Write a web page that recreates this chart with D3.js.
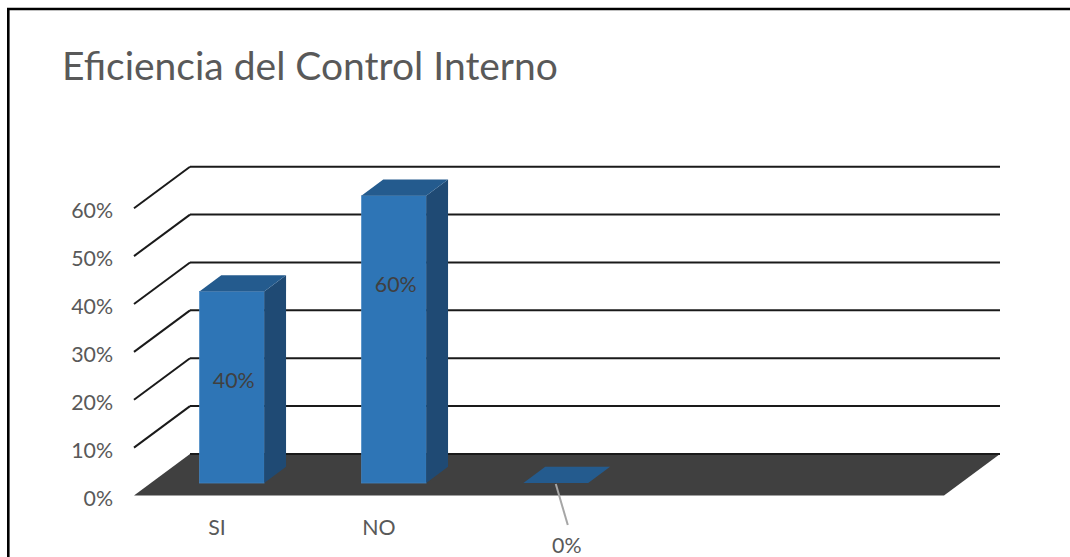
<!DOCTYPE html>
<html>
<head>
<meta charset="utf-8">
<script src="https://cdn.jsdelivr.net/npm/d3@7"></script>
<style>
  html,body{margin:0;padding:0;background:#fff;}
  svg{display:block;font-family:Lato,"Open Sans",sans-serif;}
</style>
</head>
<body>
<svg id="chart" width="1070" height="557"></svg>
<script>
/* ----- data ------------------------------------------------- */
const title      = 'Eficiencia del Control Interno';
const categories = ['SI','NO','','',''];
const values     = [0.40, 0.60, 0, null, null];
const yTicks     = [0, .1, .2, .3, .4, .5, .6];

/* ----- setup ------------------------------------------------ */
const svg = d3.select('#chart'),
      W   = +svg.attr('width'),
      H   = +svg.attr('height');

const depth = {dx:56, dy:-41.5},          // front -> back wall offset
      bar0  = .30, bar1 = .69;            // bar depth (fraction of floor)

const x = d3.scaleBand()
  .domain(d3.range(categories.length))
  .range([134,944])
  .paddingInner(.6).paddingOuter(.3);

const yF = d3.scaleLinear().domain([0,.6]).range([495.5,208.2]); // front plane
const yB = v => yF(v) + depth.dy;                                   // back wall
const fmt = d3.format('.0%');

const col = {front:'#2e75b6', top:'#245b8e', side:'#1f4a74',
             floor:'#404040', grid:'#1a1a1a', text:'#595959'};

/* frame (only top / left edges visible) */
svg.append('path')
  .attr('d',`M8.3,${H+10}V9H${W+10}`)
  .attr('fill','none').attr('stroke','#000').attr('stroke-width',2.6);

/* title, fitted to width */
const t = svg.append('text')
  .attr('x',62).attr('y',80)
  .style('fill',col.text).style('font-size','40px')
  .text(title);
const fs = 40 * 496 / t.node().getComputedTextLength();
t.style('font-size',fs+'px');
const small = fs * 23/42;

/* ----- floor & grid ---------------------------------------- */
const x0 = x.range()[0], x1 = x.range()[1];
svg.append('path')
  .attr('d',`M${x0},${yF(0)}L${x0+depth.dx},${yB(0)}L${x1+depth.dx},${yB(0)}L${x1},${yF(0)}Z`)
  .attr('fill',col.floor);

const grid = svg.append('g');
yTicks.forEach(v=>{
  if(v>0) grid.append('line')
    .attr('x1',x0).attr('y1',yF(v))
    .attr('x2',x0+depth.dx).attr('y2',yB(v))
    .attr('stroke',col.grid).attr('stroke-width',2);
  grid.append('line')
    .attr('x1',x0+depth.dx).attr('y1',yB(v))
    .attr('x2',x1+depth.dx).attr('y2',yB(v))
    .attr('stroke',col.grid).attr('stroke-width',2);
});

/* y tick labels */
svg.append('g').selectAll('text')
  .data(yTicks).join('text')
    .attr('x',113).attr('y',d=>yF(d)+2)
    .attr('text-anchor','end').attr('dominant-baseline','central')
    .style('fill',col.text).style('font-size',small+'px')
    .text(fmt);

/* category labels */
svg.append('g').selectAll('text')
  .data(categories).join('text')
    .attr('x',(d,i)=>x(i)+x.bandwidth()/2+2)
    .attr('y',527)
    .attr('text-anchor','middle').attr('dominant-baseline','central')
    .style('fill',col.text).style('font-size',small+'px')
    .text(d=>d);

/* ----- bars ------------------------------------------------- */
const bw  = x.bandwidth(),
      sdx = (bar1-bar0)*depth.dx,
      sdy = (bar1-bar0)*depth.dy;

const bars = values.map((v,i)=>({v,i})).filter(d=>d.v!=null);

bars.forEach(d=>{
  const fx0 = x(d.i) + bar0*depth.dx,
        fx1 = fx0 + bw,
        bot = yF(0) + bar0*depth.dy,
        top = yF(d.v) + bar0*depth.dy,
        g   = svg.append('g');

  if(d.v>0){
    g.append('rect')
      .attr('x',fx0).attr('y',top).attr('width',bw).attr('height',bot-top)
      .attr('fill',col.front).attr('stroke','#4a8ac6').attr('stroke-width',.6);
    g.append('path')
      .attr('d',`M${fx1},${top}L${fx1+sdx},${top+sdy}L${fx1+sdx},${bot+sdy}L${fx1},${bot}Z`)
      .attr('fill',col.side);
  }
  g.append('path')
    .attr('d',`M${fx0},${top}L${fx0+sdx},${top+sdy}L${fx1+sdx},${top+sdy}L${fx1},${top}Z`)
    .attr('fill',col.top);

  /* data labels */
  const cx = fx0 + bw/2;
  if(d.v>0){
    g.append('text')
      .attr('x',cx+2).attr('y',top+88)
      .attr('text-anchor','middle').attr('dominant-baseline','central')
      .style('fill','#404040').style('font-size',small+'px')
      .text(fmt(d.v));
  } else {
    g.append('line')
      .attr('x1',cx).attr('y1',bot+1).attr('x2',cx+12).attr('y2',bot+42)
      .attr('stroke','#a6a6a6').attr('stroke-width',2);
    g.append('text')
      .attr('x',cx+11).attr('y',bot+62)
      .attr('text-anchor','middle').attr('dominant-baseline','central')
      .style('fill',col.text).style('font-size',small+'px')
      .text(fmt(d.v));
  }
});
</script>
</body>
</html>
